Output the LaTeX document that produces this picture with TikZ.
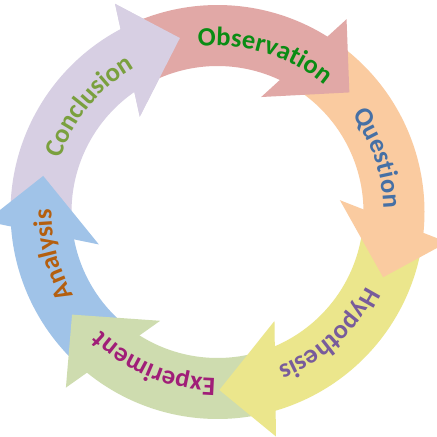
\documentclass[tikz,border=0pt]{standalone}
\usepackage{fontspec}
\setmainfont{Carlito}
\usetikzlibrary{decorations.text}
\definecolor{obsF}{RGB}{225,168,166}
\definecolor{queF}{RGB}{250,203,160}
\definecolor{hypF}{RGB}{235,230,140}
\definecolor{expF}{RGB}{206,220,175}
\definecolor{anaF}{RGB}{160,195,232}
\definecolor{conF}{RGB}{215,207,227}
\definecolor{obsT}{RGB}{10,140,20}
\definecolor{queT}{RGB}{70,112,165}
\definecolor{hypT}{RGB}{120,92,155}
\definecolor{expT}{RGB}{160,30,120}
\definecolor{anaT}{RGB}{180,95,15}
\definecolor{conT}{RGB}{122,160,62}
\newcommand\cyclebody[3]{%
  \fill[#1] (#2:207pt) arc[start angle=#2, end angle={#3+13.5}, radius=207pt]
    -- ({#3+13.5}:146pt) arc[start angle={#3+13.5}, end angle=#2, radius=146pt] -- cycle;}
\newcommand\cyclehead[2]{%
  \fill[#1] ({#2+14}:232pt) -- (#2:178pt) -- ({#2+27}:123pt) -- cycle;}
\newcommand\cyclearrow[3]{\cyclebody{#1}{#2}{#3}\cyclehead{#1}{#3}}
\newcommand\cyclelabel[3]{%
  \path[decorate, decoration={text along path, text align=center, text color=#2,
      text={|\bfseries\fontsize{26.5}{26.5}\selectfont|#3}}]
    ({#1+45}:166pt) arc[start angle={#1+45}, end angle={#1-45}, radius=166pt];}
\begin{document}
\begin{tikzpicture}
\useasboundingbox (-217.5pt,-225pt) rectangle (219.5pt,212pt);
\fill[white] (-217.5pt,-225pt) rectangle (219.5pt,212pt);
\clip (-217.5pt,-225pt) rectangle (219.5pt,212pt);
% arrows (each head lies over the tail of the next one)
\cyclearrow{conF}{181.8}{102.2}
\cyclearrow{anaF}{228.7}{168.3}
\cyclearrow{expF}{284.1}{215.2}
\cyclearrow{hypF}{352}{270.6}
\cyclearrow{queF}{55.7}{-21.5}
\cyclearrow{obsF}{115.7}{42.2}
\cyclehead{conF}{102.2}
% labels
\cyclelabel{73.3}{obsT}{Observation}
\cyclelabel{18.6}{queT}{Question}
\cyclelabel{-47.6}{hypT}{Hypothesis}
\cyclelabel{-112.5}{expT}{Experiment}
\cyclelabel{194.5}{anaT}{Analysis}
\cyclelabel{140.6}{conT}{Conclusion}
\end{tikzpicture}
\end{document}
